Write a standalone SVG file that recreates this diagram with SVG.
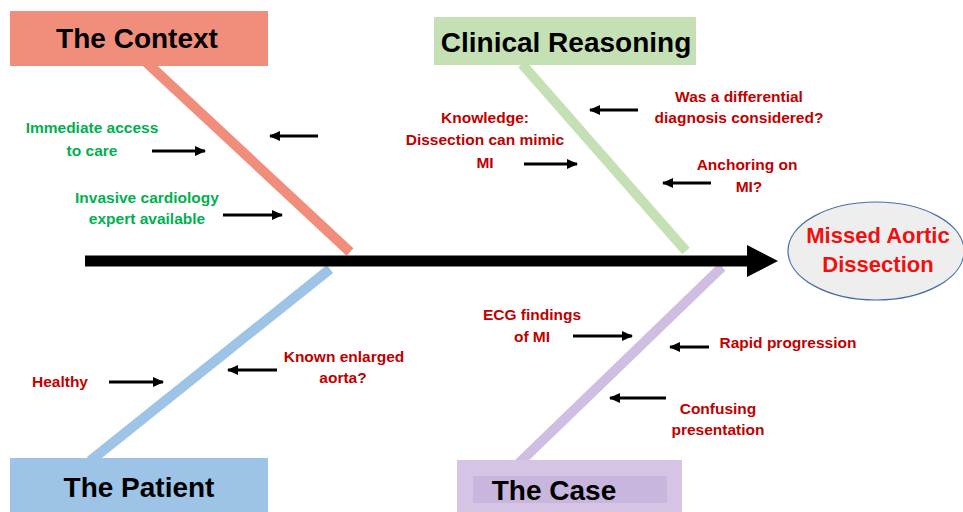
<svg xmlns="http://www.w3.org/2000/svg" width="963" height="512" viewBox="0 0 963 512">
<style>
.cat{font-family:"Liberation Sans",Arial,sans-serif;font-weight:bold;font-size:28px;fill:#000;text-anchor:middle}
.g{font-family:"Liberation Sans",Arial,sans-serif;font-weight:bold;font-size:15.5px;fill:#00B050;text-anchor:middle}
.r{font-family:"Liberation Sans",Arial,sans-serif;font-weight:bold;font-size:15.5px;fill:#C00000;text-anchor:middle}
.eff{font-family:"Liberation Sans",Arial,sans-serif;font-weight:bold;font-size:22px;fill:#F01010;text-anchor:middle}
.bone{stroke-width:10;stroke-linecap:butt;fill:none}
.sa{stroke:#000;stroke-width:3;fill:none;marker-end:url(#ah)}
</style>
<defs>
<marker id="ah" markerUnits="userSpaceOnUse" markerWidth="12" markerHeight="10" refX="10" refY="5" orient="auto">
<path d="M0,0 L11,5 L0,10 Z" fill="#000"/>
</marker>
</defs>
<rect width="963" height="512" fill="#fff"/>
<g id="bones">
<line class="bone" x1="146" y1="62" x2="350" y2="252" stroke="#F08E7B"/>
<line class="bone" x1="522" y1="64" x2="686" y2="251" stroke="#C5E0B4"/>
<line class="bone" x1="330" y1="269" x2="90" y2="461" stroke="#9DC3E6"/>
<line class="bone" x1="722" y1="267" x2="518" y2="464" stroke="#D0BDE2"/>
</g>
<g id="connectors">
<line x1="85" y1="261" x2="750" y2="261" stroke="#000" stroke-width="11"/>
<polygon points="747,245 778,261 747,277" fill="#000"/>
<line class="sa" x1="152" y1="151" x2="205" y2="151"/>
<line class="sa" x1="318" y1="136" x2="270" y2="136"/>
<line class="sa" x1="223" y1="215" x2="282" y2="215"/>
<line class="sa" x1="524" y1="164" x2="577" y2="164"/>
<line class="sa" x1="638" y1="110" x2="590" y2="110"/>
<line class="sa" x1="711" y1="183" x2="663" y2="183"/>
<line class="sa" x1="109" y1="382" x2="163" y2="382"/>
<line class="sa" x1="277" y1="370" x2="228" y2="370"/>
<line class="sa" x1="573" y1="336" x2="632" y2="336"/>
<line class="sa" x1="709" y1="347" x2="670" y2="347"/>
<line class="sa" x1="666" y1="398" x2="610" y2="398"/>
</g>
<g id="context">
<rect x="10" y="11" width="258" height="55" fill="#F08E7B"/>
<text class="cat" x="137" y="48">The Context</text>
</g>
<g id="clinical">
<rect x="434" y="17" width="262" height="48" fill="#C5E0B4"/>
<text class="cat" x="566" y="52">Clinical Reasoning</text>
</g>
<g id="patient">
<rect x="10" y="458" width="258" height="60" fill="#9DC3E6"/>
<text class="cat" x="139" y="497">The Patient</text>
</g>
<g id="case">
<rect x="457" y="460" width="225" height="60" fill="#D5C4E4"/>
<rect x="473" y="476" width="194" height="27" fill="#C8B6DE"/>
<text class="cat" x="554" y="500">The Case</text>
</g>
<g id="effect">
<ellipse cx="876" cy="251" rx="88" ry="49" fill="#EEEEEE" stroke="#4A6FA8" stroke-width="1.2"/>
<text class="eff" x="878" y="243">Missed Aortic</text>
<text class="eff" x="878" y="272">Dissection</text>
</g>
<g id="labels">
<text class="g" x="92" y="133">Immediate access</text>
<text class="g" x="92" y="156">to care</text>
<text class="g" x="147" y="203">Invasive cardiology</text>
<text class="g" x="147" y="224">expert available</text>
<text class="r" x="485" y="123">Knowledge:</text>
<text class="r" x="485" y="145">Dissection can mimic</text>
<text class="r" x="485" y="168">MI</text>
<text class="r" x="739" y="102">Was a differential</text>
<text class="r" x="739" y="123">diagnosis considered?</text>
<text class="r" x="747" y="170">Anchoring on</text>
<text class="r" x="749" y="192">MI?</text>
<text class="r" x="60" y="387">Healthy</text>
<text class="r" x="344" y="362">Known enlarged</text>
<text class="r" x="343" y="383">aorta?</text>
<text class="r" x="532" y="320">ECG findings</text>
<text class="r" x="532" y="342">of MI</text>
<text class="r" x="788" y="348">Rapid progression</text>
<text class="r" x="718" y="414">Confusing</text>
<text class="r" x="718" y="435">presentation</text>
</g>
</svg>
